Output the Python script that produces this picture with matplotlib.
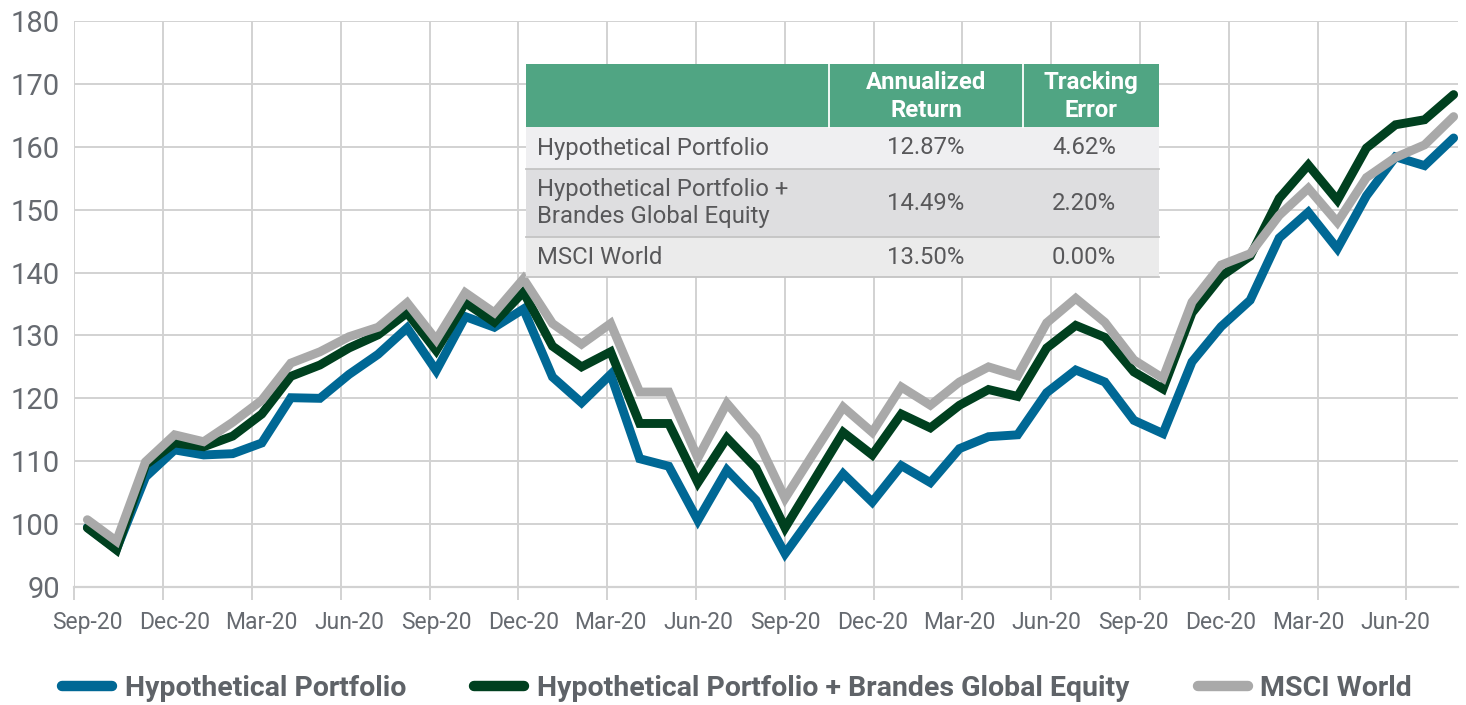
import matplotlib
matplotlib.use("Agg")
import matplotlib.pyplot as plt
from matplotlib.lines import Line2D
from matplotlib.patches import Rectangle

# ---------------- data ----------------
tick_labels = ["Sep-20", "Dec-20", "Mar-20", "Jun-20",
               "Sep-20", "Dec-20", "Mar-20", "Jun-20",
               "Sep-20", "Dec-20", "Mar-20", "Jun-20",
               "Sep-20", "Dec-20", "Mar-20", "Jun-20"]

hypothetical = [99.5, 96.0, 107.5, 111.8, 111.0, 111.2, 112.9, 120.1, 120.0, 123.8,
                127.0, 131.2, 124.4, 133.0, 131.3, 134.2, 123.4, 119.3, 123.8, 110.4,
                109.2, 100.6, 108.6, 103.8, 95.3, 101.7, 108.0, 103.5, 109.3, 106.6,
                112.0, 113.9, 114.2, 120.9, 124.5, 122.6, 116.5, 114.4, 125.8, 131.4,
                135.6, 145.5, 149.6, 143.8, 152.2, 158.4, 157.0, 161.4]

hypo_brandes = [99.4, 95.9, 109.4, 112.9, 112.3, 114.0, 117.5, 123.5, 125.3, 128.0,
                130.1, 133.6, 127.6, 135.2, 132.1, 136.9, 128.3, 125.0, 127.4, 116.0,
                116.0, 106.6, 113.7, 108.9, 99.4, 107.0, 114.6, 111.0, 117.5, 115.3,
                118.9, 121.4, 120.3, 128.0, 131.6, 129.7, 124.2, 121.5, 133.6, 139.4,
                142.6, 151.8, 157.1, 151.5, 159.8, 163.5, 164.3, 168.3]

msci_world = [100.7, 97.3, 109.9, 114.2, 113.1, 116.2, 119.7, 125.6, 127.4, 129.8,
              131.3, 135.2, 129.3, 136.8, 133.6, 139.0, 131.9, 128.6, 131.9, 121.0,
              121.0, 110.5, 119.2, 113.8, 104.1, 111.4, 118.6, 114.6, 121.8, 118.9,
              122.6, 125.0, 123.6, 132.0, 135.9, 132.1, 126.1, 123.2, 135.3, 141.2,
              143.0, 149.1, 153.4, 148.0, 155.1, 158.3, 160.3, 164.8]

series_names = ["Hypothetical Portfolio",
                "Hypothetical Portfolio + Brandes Global Equity",
                "MSCI World"]

table_rows = ["Hypothetical Portfolio",
              "Hypothetical Portfolio +\nBrandes Global Equity",
              "MSCI World"]
annualized_return = ["12.87%", "14.49%", "13.50%"]
tracking_error = ["4.62%", "2.20%", "0.00%"]
table_header = ["Annualized\nReturn", "Tracking\nError"]

# ---------------- style ----------------
W, H = 1466, 705
BLUE = "#006895"
GREEN = "#00401f"
GREY = "#a9a9a9"
TXT = "#666a70"
GRID = "#d2d2d2"
FONT = "Roboto"

fig = plt.figure(figsize=(W / 100, H / 100), dpi=100)
ax = fig.add_axes([74 / W, 1 - 587 / H, (1458 - 74) / W, (587 - 21) / H])

xs = list(range(len(hypothetical)))
for vals, col, name in [(hypothetical, BLUE, series_names[0]),
                        (hypo_brandes, GREEN, series_names[1]),
                        (msci_world, GREY, series_names[2])]:
    ax.plot(xs, vals, color=col, lw=6.4, solid_joinstyle="miter",
            solid_capstyle="round", label=name, zorder=3)

ax.set_xlim(-0.46, 47.15)
ax.set_ylim(90, 180)
ax.set_yticks(range(90, 181, 10))
ax.yaxis.grid(True, color=GRID, lw=1.4)
ax.tick_params(axis="y", length=0, pad=10, labelsize=21, labelcolor=TXT)
for t in ax.get_yticklabels():
    t.set_fontfamily(FONT)

# category labels every 3 months
ax.set_xticks(xs[::3])
ax.set_xticklabels(tick_labels, fontfamily=FONT, fontsize=16.5, color=TXT)
ax.tick_params(axis="x", which="major", length=0, pad=17)
# vertical grid lines / tick marks
grid_pos = [-0.447 + 3.055 * k for k in range(16)]
ax.set_xticks(grid_pos, minor=True)
ax.xaxis.grid(True, which="minor", color=GRID, lw=1.4)
ax.tick_params(axis="x", which="minor", length=9, width=1.4, color=GRID)

for s in ["top", "right", "left"]:
    ax.spines[s].set_visible(False)
ax.spines["bottom"].set_color(GRID)
ax.spines["bottom"].set_linewidth(1.6)
ax.set_axisbelow(True)

# ---------------- table overlay ----------------
def fx(x):
    return x / W

def fy(y):
    return 1 - y / H

def rect(x0, y0, x1, y1, color):
    fig.add_artist(Rectangle((fx(x0), fy(y1)), fx(x1) - fx(x0), fy(y0) - fy(y1),
                             transform=fig.transFigure, facecolor=color,
                             edgecolor="none", zorder=10))

def hline(x0, x1, y, color, lw=1.3):
    fig.add_artist(Line2D([fx(x0), fx(x1)], [fy(y), fy(y)], transform=fig.transFigure,
                          color=color, lw=lw, zorder=11))

def vline(x, y0, y1, color, lw=1.3):
    fig.add_artist(Line2D([fx(x), fx(x)], [fy(y0), fy(y1)], transform=fig.transFigure,
                          color=color, lw=lw, zorder=11))

tx0, tx1 = 526, 1159
c1, c2 = 829, 1023
rows_y = [64, 127, 169, 237, 277]
rect(tx0, rows_y[0], tx1, rows_y[1], "#50a583")
rect(tx0, rows_y[1], tx1, rows_y[2], "#efeff1")
rect(tx0, rows_y[2], tx1, rows_y[3], "#dedee0")
rect(tx0, rows_y[3], tx1, rows_y[4], "#ebebeb")
vline(c1, rows_y[0], rows_y[1], "white")
vline(c2, rows_y[0], rows_y[1], "white")
for yy in rows_y[2:]:
    hline(tx0, tx1, yy, "#c4c4c4")

col2_c = (c1 + c2) / 2
col3_head = (c2 + tx1) / 2
col3_c = col3_head - 7
hy = (rows_y[0] + rows_y[1]) / 2
for txt, cx in zip(table_header, [col2_c, col3_head]):
    fig.text(fx(cx), fy(hy + 1), txt, ha="center", va="center", color="white",
             fontfamily=FONT, fontweight="bold", fontsize=17.2, linespacing=1.25,
             zorder=12)

BODY = "#58585a"
for i, (lab, r, te) in enumerate(zip(table_rows, annualized_return, tracking_error)):
    cy = (rows_y[i + 1] + rows_y[i + 2]) / 2
    fig.text(fx(537), fy(cy), lab, ha="left", va="center", color=BODY,
             fontfamily=FONT, fontsize=17.2, linespacing=1.25, zorder=12)
    fig.text(fx(col2_c), fy(cy), r, ha="center", va="center", color=BODY,
             fontfamily=FONT, fontsize=17.2, zorder=12)
    fig.text(fx(col3_c), fy(cy), te, ha="center", va="center", color=BODY,
             fontfamily=FONT, fontsize=17.2, zorder=12)

# ---------------- legend ----------------
handles = [Line2D([], [], color=c, lw=7.5, solid_capstyle="round")
           for c in (BLUE, GREEN, GREY)]
fig.legend(handles, series_names, loc="center", bbox_to_anchor=(737 / W, 1 - 688 / H),
           ncol=3, frameon=False, handlelength=1.75, handletextpad=0.45,
           columnspacing=2.4, labelcolor="#5f6368",
           prop=dict(family=FONT, weight="bold", size=20.5))

fig.savefig("out.png", dpi=100)
